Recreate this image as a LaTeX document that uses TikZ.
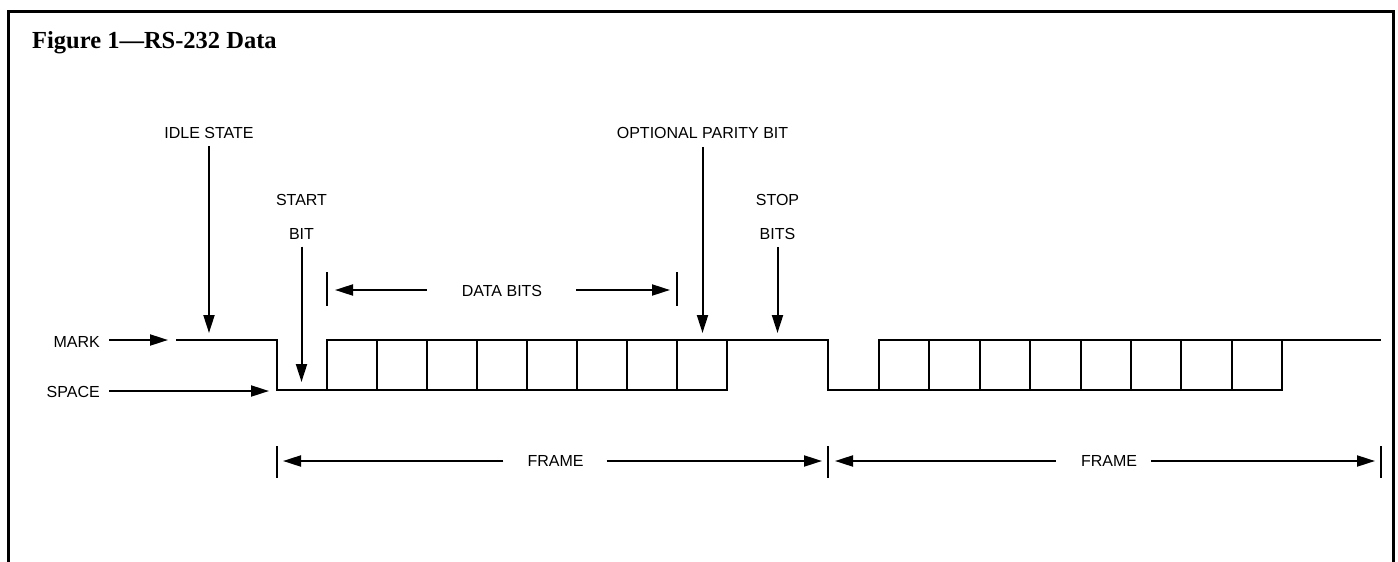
\documentclass[tikz,border=0pt]{standalone}
\usepackage{fontspec}
\setmainfont{Liberation Serif}
\setsansfont{Liberation Sans}
\usetikzlibrary{arrows.meta}
\begin{document}
\begin{tikzpicture}[x=1pt,y=-1pt,
  lab/.style={font=\sffamily\fontsize{16}{16}\selectfont, inner sep=0pt},
  wave/.style={line width=2pt, line join=miter},
  arr/.style={line width=2pt, -{Triangle[length=18pt,width=11pt]}},
  tickmark/.style={line width=2pt}]
\useasboundingbox (0,0) rectangle (1398,562);
% border
\draw[line width=3pt] (8,562) -- (8,11) -- (1393,11) -- (1393,562);
% title
\node[anchor=base west, inner sep=0pt, font=\bfseries\fontsize{24.5}{25}\selectfont] (title) at (32,48) {Figure 1\textemdash RS-232 Data};

% labels
\node[lab] (idle) at (209,133) {IDLE STATE};
\node[lab] (start) at (301.5,200) {START};
\node[lab] (startb) at (301.5,234) {BIT};
\node[lab] (parity) at (702.5,133) {OPTIONAL PARITY BIT};
\node[lab] (stop) at (777.5,200) {STOP};
\node[lab] (stopb) at (777.5,234) {BITS};
\node[lab] (data) at (502,291) {DATA BITS};
\node[lab, anchor=east] (mark) at (100,342) {MARK};
\node[lab, anchor=east] (space) at (100,392) {SPACE};
\node[lab] (frameA) at (555.5,461) {FRAME};
\node[lab] (frameB) at (1109,461) {FRAME};

% coordinates
\coordinate (idletip) at (209,333);
\coordinate (starttip) at (301.5,382);
\coordinate (paritytip) at (702.5,333);
\coordinate (stoptip) at (777.5,333);
\coordinate (marktip) at (168,340);
\coordinate (spacetip) at (269,391);
\coordinate (dataL) at (335,290);
\coordinate (dataR) at (670,290);
\coordinate (fAL) at (283,461);
\coordinate (fAR) at (822,461);
\coordinate (fBL) at (835,461);
\coordinate (fBR) at (1375,461);

% pointer arrows
\draw[arr] ([yshift=-7pt]idle.south) -- (idletip);
\draw[arr] ([yshift=-7pt]startb.south) -- (starttip);
\draw[arr] ([yshift=-8pt]parity.south) -- (paritytip);
\draw[arr] ([yshift=-7pt]stopb.south) -- (stoptip);
\draw[arr] (marktip -| mark.east) ++(9,0) -- (marktip);
\draw[arr] (spacetip -| space.east) ++(9,0) -- (spacetip);

% data bits dimension
\draw[arr] (dataL -| data.west) ++(-35,0) -- (dataL);
\draw[arr] (dataR -| data.east) ++(34,0) -- (dataR);
\draw[tickmark] (327,272) -- (327,306);
\draw[tickmark] (677,272) -- (677,306);

% frame dimensions
\draw[arr] (fAL -| frameA.west) ++(-24,0) -- (fAL);
\draw[arr] (fAR -| frameA.east) ++(23,0) -- (fAR);
\draw[arr] (fBL -| frameB.west) ++(-25,0) -- (fBL);
\draw[arr] (fBR -| frameB.east) ++(14,0) -- (fBR);
\draw[tickmark] (277,446) -- (277,478);
\draw[tickmark] (828,446) -- (828,478);
\draw[tickmark] (1381,446) -- (1381,478);

% waveform
\draw[wave] (176,340) -- (277,340) -- (277,390) -- (327,390);
\draw[wave] (327,340) rectangle (727,390);
\foreach \x in {377,427,477,527,577,627,677} \draw[wave] (\x,340) -- (\x,390);
\draw[wave] (727,340) -- (828,340) -- (828,390) -- (879,390);
\draw[wave] (879,340) rectangle (1282,390);
\foreach \i in {1,...,7} \draw[wave] ({879+\i*50.375},340) -- ({879+\i*50.375},390);
\draw[wave] (1282,340) -- (1381,340);
\end{tikzpicture}
\end{document}
